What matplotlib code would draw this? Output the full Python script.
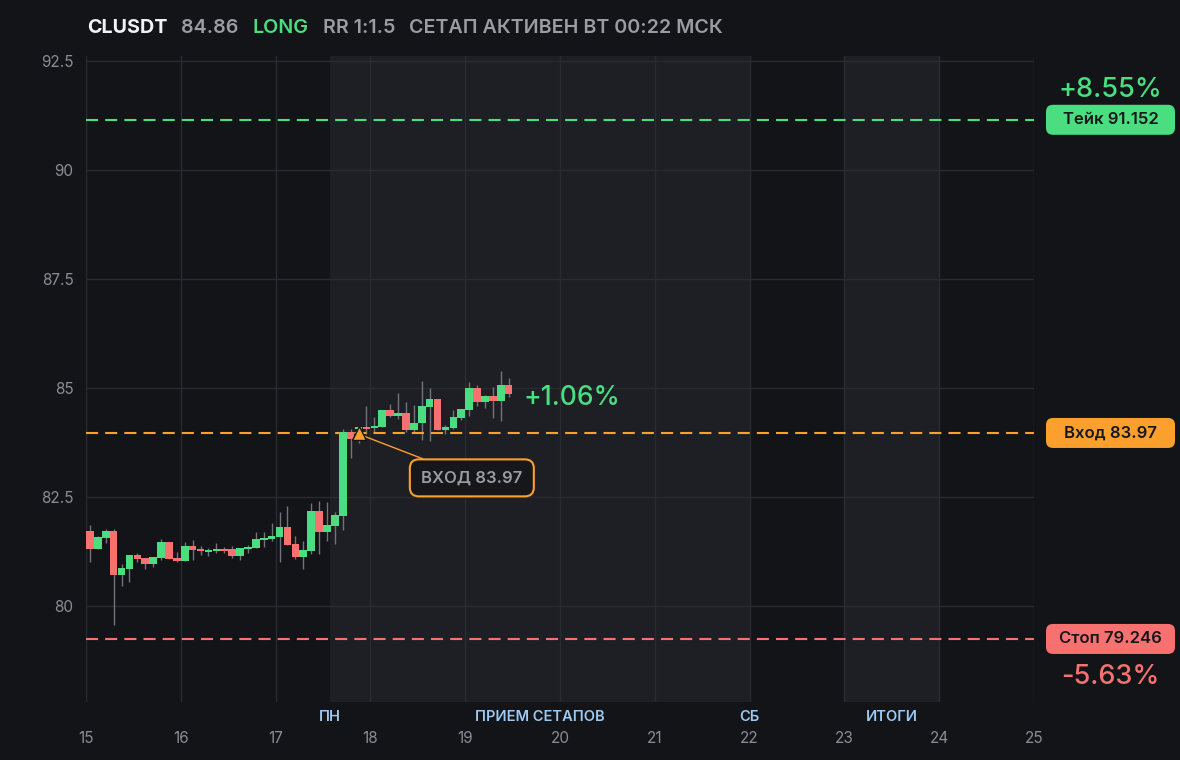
import matplotlib.pyplot as plt
import numpy as np
from matplotlib.patches import FancyBboxPatch

# ---- data: 2h candles, CLUSDT ----
opens = [81.72, 81.31, 81.56, 81.72, 80.71, 80.85, 81.17, 81.10, 80.96, 81.10,
         81.47, 81.10, 81.03, 81.38, 81.31, 81.24, 81.26, 81.31, 81.31, 81.15,
         81.31, 81.33, 81.51, 81.54, 81.58, 81.81, 81.42, 81.12, 81.26, 82.18,
         81.70, 81.84, 82.06, 83.99, 84.05, 84.10, 84.08, 84.10, 84.50, 84.35,
         84.43, 84.04, 84.20, 84.56, 84.75, 84.04, 84.08, 84.31, 84.50, 85.00,
         84.68, 84.82, 84.70, 85.07]
highs = [81.86, 81.60, 81.77, 81.77, 80.96, 81.17, 81.22, 81.10, 81.12, 81.54,
         81.47, 81.24, 81.47, 81.51, 81.38, 81.33, 81.44, 81.35, 81.38, 81.33,
         81.40, 81.70, 81.70, 81.90, 82.16, 82.29, 81.61, 81.49, 82.36, 82.41,
         82.39, 82.16, 84.05, 84.05, 84.10, 84.58, 84.33, 84.50, 84.63, 84.89,
         84.68, 84.61, 85.16, 85.00, 84.75, 84.15, 84.50, 84.52, 85.14, 85.07,
         84.85, 85.02, 85.39, 85.23]
lows = [81.01, 81.31, 81.44, 79.56, 80.46, 80.55, 81.01, 80.85, 80.89, 81.05,
        81.08, 81.01, 81.03, 81.05, 81.17, 81.15, 81.22, 81.22, 81.10, 81.05,
        81.22, 81.33, 81.35, 81.49, 81.01, 81.40, 81.08, 80.85, 81.19, 81.19,
        81.49, 81.42, 81.74, 83.39, 83.74, 83.95, 84.00, 84.10, 84.33, 84.30,
        83.99, 84.00, 83.80, 83.78, 84.04, 83.95, 84.05, 84.26, 84.36, 84.59,
        84.55, 84.31, 84.24, 84.80]
closes = [81.31, 81.58, 81.72, 80.71, 80.87, 81.17, 81.08, 80.96, 81.12, 81.47,
          81.08, 81.03, 81.38, 81.28, 81.26, 81.28, 81.31, 81.26, 81.15, 81.33,
          81.35, 81.54, 81.56, 81.61, 81.81, 81.40, 81.12, 81.28, 82.18, 81.70,
          81.86, 82.09, 83.99, 83.83, 84.10, 84.05, 84.13, 84.50, 84.35, 84.43,
          84.04, 84.20, 84.59, 84.75, 84.04, 84.10, 84.33, 84.52, 85.00, 84.68,
          84.82, 84.70, 85.07, 84.86]
start_day = 15.0
step = 1 / 12  # 2h candles

entry, take, stop = 83.97, 91.152, 79.246
entry_idx = 34
last_price = 84.86
setup_window = (17.574, 22.0)
results_window = (23.0, 24.0)
x_ticks = list(range(15, 26))
y_ticks = [80, 82.5, 85, 87.5, 90, 92.5]

BG = "#131418"
SHADE = "#1e1f24"
GRID = "#2a2b30"
GREEN = "#4ade80"
RED = "#f87171"
ORANGE = "#fb9f2d"
GRAY = "#9a9ca3"
BLUE = "#9ccaf3"

plt.rcParams["font.family"] = ["Inter", "DejaVu Sans"]

fig = plt.figure(figsize=(11.8, 7.6), dpi=100, facecolor=BG)
ax = fig.add_axes([86 / 1180, 1 - 702 / 760, 948 / 1180, 646 / 760])
ax.set_facecolor(BG)
ax.set_xlim(15, 25)
ax.set_ylim(77.80, 92.615)
for s in ax.spines.values():
    s.set_visible(False)

ax.axvspan(*setup_window, color=SHADE, zorder=0, lw=0)
ax.axvspan(*results_window, color=SHADE, zorder=0, lw=0)
for d in x_ticks:
    ax.axvline(d, color=GRID, lw=1, zorder=1)
for p in y_ticks:
    ax.axhline(p, color=GRID, lw=1, zorder=1)

ax.set_xticks(x_ticks)
ax.set_yticks(y_ticks)
ax.set_yticklabels(["80", "82.5", "85", "87.5", "90", "92.5"])
ax.tick_params(length=0, colors="#8a8d94", labelsize=11)
ax.tick_params(axis="x", pad=21)
ax.tick_params(axis="y", pad=9)

# ---- candles ----
o = np.array(opens); h = np.array(highs); l = np.array(lows); c = np.array(closes)
xs = start_day + (np.arange(len(o)) + 0.5) * step
up = c >= o
cols = np.where(up, GREEN, RED)
ax.vlines(xs, l, h, color="#70737b", lw=1, zorder=2)
bottoms = np.minimum(o, c)
heights = np.maximum(np.abs(c - o), 0.045)
ax.bar(xs, heights, bottom=bottoms, width=step * 0.97, color=cols, lw=0, zorder=3)

# ---- levels ----
dash = dict(lw=1.5, dashes=(5.8, 3.4), zorder=2)
ax.axhline(take, color=GREEN, **dash)
ax.axhline(entry, color=ORANGE, **dash)
ax.axhline(stop, color=RED, **dash)

ex = xs[entry_idx]
ax.plot([ex + 0.03, 18.55], [entry - 0.05, 83.38], color=ORANGE, lw=1, zorder=4)
ax.plot(ex, entry, marker="^", ms=10, color=ORANGE, mec=BG, mew=1, zorder=5)

pct_now = (last_price - entry) / entry * 100
ax.text(19.62, 84.77, f"+{pct_now:.2f}%", color=GREEN, fontsize=19,
        va="center", ha="left", weight="medium")

# ---- bottom labels ----
lab_y = -15 / 646
for xv, t in [(setup_window[0], "ПН"), (sum(setup_window) / 2, "ПРИЕМ СЕТАПОВ"),
              (setup_window[1], "СБ"), (sum(results_window) / 2, "ИТОГИ")]:
    ax.text(xv, lab_y, t, transform=ax.get_xaxis_transform(), color=BLUE,
            fontsize=10.5, ha="center", va="center", weight="semibold", clip_on=False)

# ---- overlay in pixel units for the boxes ----
ov = fig.add_axes([0, 0, 1, 1], facecolor="none")
ov.set_xlim(0, 1180)
ov.set_ylim(0, 760)
ov.axis("off")


def ypix(price):
    return ax.transData.transform((20, price))[1]


def tag(price, label, color):
    y = ypix(price)
    ov.add_patch(FancyBboxPatch((1046, y - 15), 129, 30,
                                boxstyle="round,pad=0,rounding_size=7",
                                fc=color, ec="none"))
    ov.text(1110.5, y, label, color="#16171b", fontsize=12, ha="center",
            va="center", weight="semibold")


tag(take, f"Тейк {take:.3f}", GREEN)
tag(entry, f"Вход {entry:.2f}", ORANGE)
tag(stop, f"Стоп {stop:.3f}", RED)

take_pct = (take - entry) / entry * 100
stop_pct = (stop - entry) / entry * 100
ov.text(1110.5, ypix(take) + 30, f"+{take_pct:.2f}%", color=GREEN, fontsize=19.5,
        ha="center", va="center", weight="medium")
ov.text(1110.5, ypix(stop) - 38, f"{stop_pct:.2f}%", color=RED, fontsize=19.5,
        ha="center", va="center", weight="medium")

# entry callout
cx, cy = ax.transData.transform((19.07, 82.94))
ov.add_patch(FancyBboxPatch((cx - 62, cy - 18.5), 124, 37,
                            boxstyle="round,pad=0,rounding_size=9",
                            fc="#16171b", ec=ORANGE, lw=1.5, zorder=5))
ov.text(cx, cy, f"ВХОД {entry:.2f}", color=GRAY, fontsize=12, ha="center",
        va="center", weight="semibold", zorder=6)

# ---- header ----
hy = 1 - 28 / 760
for xp, t, col, w in [(87, "CLUSDT", "#f2f2f4", "bold"), (181, f"{last_price:.2f}", GRAY, "semibold"),
                      (253, "LONG", GREEN, "semibold"), (323, "RR 1:1.5", GRAY, "semibold"),
                      (409, "СЕТАП АКТИВЕН ВТ 00:22 МСК", GRAY, "semibold")]:
    fig.text(xp / 1180, hy, t, color=col, fontsize=14.2, weight=w, ha="left", va="center")

fig.savefig("out.png", dpi=100, facecolor=BG)
